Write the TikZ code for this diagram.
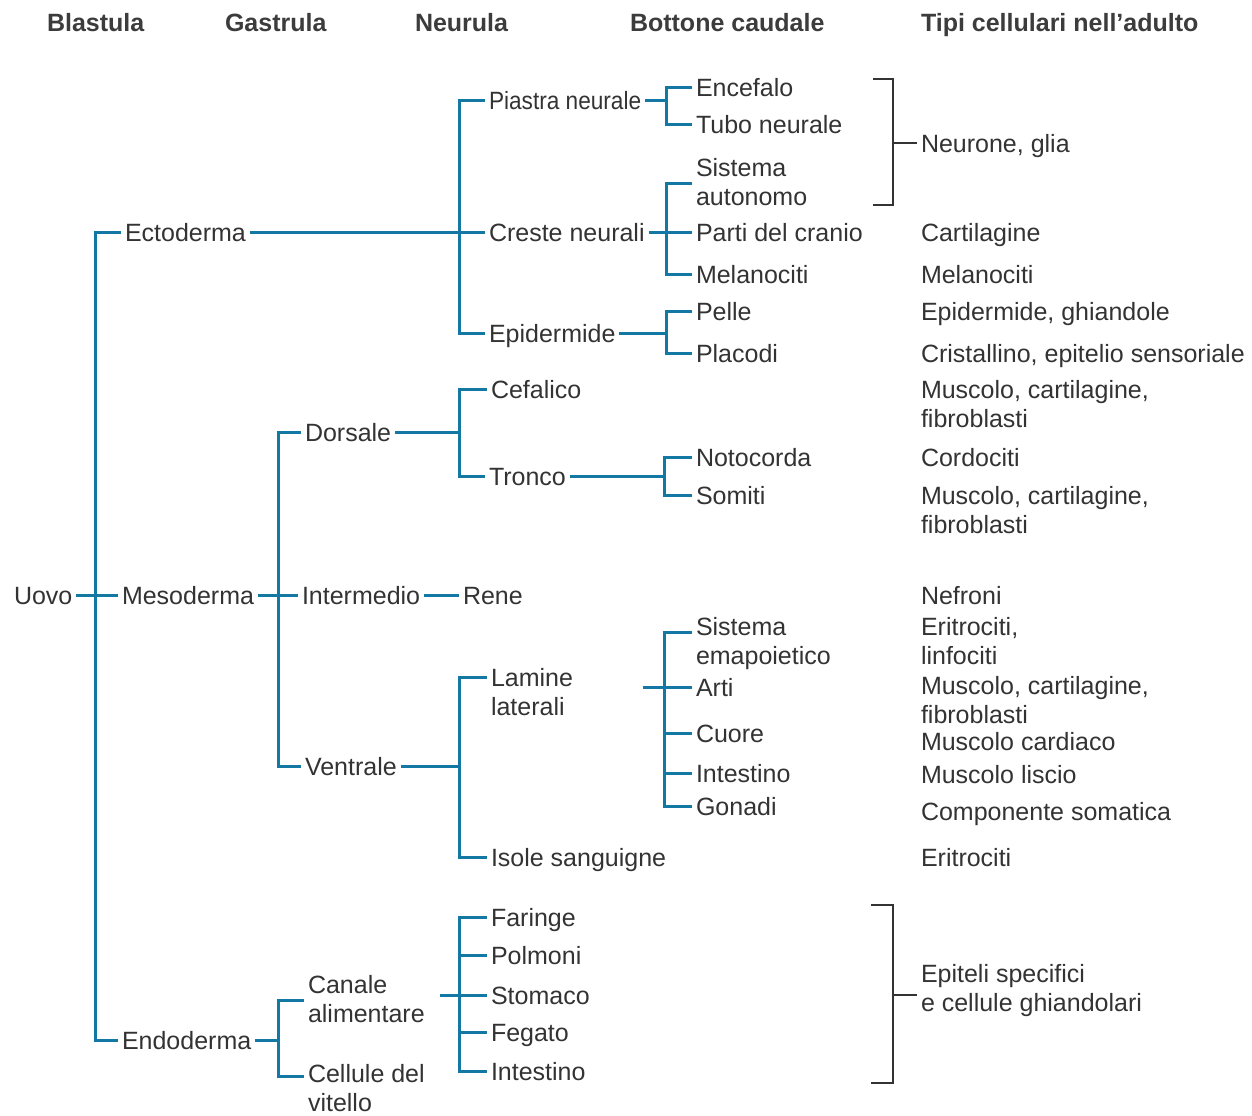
\documentclass[tikz,border=0pt]{standalone}
\usepackage{fontspec}
\setmainfont{Liberation Sans}
\definecolor{treeblue}{HTML}{1478A5}
\definecolor{txt}{HTML}{333333}
\definecolor{hdr}{HTML}{3C3C3C}
\newcommand{\two}[2]{\begin{tabular}[t]{@{}l@{}}#1\\#2\end{tabular}}
\begin{document}
\begin{tikzpicture}[x=0.5pt,y=-0.5pt,
  base/.style={anchor=base west, inner sep=0pt, outer xsep=2pt, xshift=-2pt,
    text=txt, font=\fontsize{12.5pt}{14.5pt}\selectfont},
  lbl/.style={base, text height=10pt, text depth=1pt},
  multi/.style={base},
  hd/.style={base, font=\fontsize{12.5pt}{14.5pt}\selectfont\bfseries, text=hdr},
  conn/.style={draw=treeblue, line width=1.5pt},
  brk/.style={draw=txt, line width=1pt},
]
\useasboundingbox (0,0) rectangle (1252,1115);

% column headings
\node[hd] (hBla) at (47,31) {Blastula};
\node[hd] (hGas) at (225,31) {Gastrula};
\node[hd] (hNeu) at (415,31) {Neurula};
\node[hd] (hBot) at (630,31) {Bottone caudale};
\node[hd] (hTip) at (921,31) {Tipi cellulari nell’adulto};

% germ layers
\node[lbl] (uovo) at (14,604) {Uovo};
\node[lbl] (ecto) at (125,241) {Ectoderma};
\node[lbl] (meso) at (122,604) {Mesoderma};
\node[lbl] (endo) at (122,1049) {Endoderma};

% ectoderm
\node[lbl] (piastra) at (489,109) {\scalebox{0.905}[1]{Piastra neurale}};
\node[lbl] (creste) at (489,241) {Creste neurali};
\node[lbl] (epid) at (489,342) {Epidermide};
\node[lbl] (encef) at (696,96) {Encefalo};
\node[lbl] (tubo) at (696,133) {Tubo neurale};
\node[multi] (sisaut) at (696,176) {\two{Sistema}{autonomo}};
\node[lbl] (parti) at (696,241) {Parti del cranio};
\node[lbl] (melan) at (696,283) {Melanociti};
\node[lbl] (pelle) at (696,320) {Pelle};
\node[lbl] (placodi) at (696,362) {Placodi};

% mesoderm
\node[lbl] (dorsale) at (305,441) {Dorsale};
\node[lbl] (intermedio) at (302,604) {Intermedio};
\node[lbl] (ventrale) at (305,775) {Ventrale};
\node[lbl] (cefalico) at (491,398) {Cefalico};
\node[lbl] (tronco) at (489,485) {Tronco};
\node[lbl] (rene) at (463,604) {Rene};
\node[lbl] (notocorda) at (696,466) {Notocorda};
\node[lbl] (somiti) at (696,504) {Somiti};
\node[multi] (lamine) at (491,686) {\two{Lamine}{laterali}};
\node[lbl] (isole) at (491,866) {Isole sanguigne};
\node[multi] (sisema) at (696,635) {\two{Sistema}{emapoietico}};
\node[lbl] (arti) at (696,696) {Arti};
\node[lbl] (cuore) at (696,742) {Cuore};
\node[lbl] (intestA) at (696,782) {Intestino};
\node[lbl] (gonadi) at (696,815) {Gonadi};

% endoderm
\node[multi] (canale) at (308,993) {\two{Canale}{alimentare}};
\node[multi] (cellule) at (308,1082) {\two{Cellule del}{vitello}};
\node[lbl] (faringe) at (491,926) {Faringe};
\node[lbl] (polmoni) at (491,964) {Polmoni};
\node[lbl] (stomaco) at (491,1004) {Stomaco};
\node[lbl] (fegato) at (491,1041) {Fegato};
\node[lbl] (intestB) at (491,1080) {Intestino};

% adult cell types
\node[lbl] (neurone) at (921,152) {Neurone, glia};
\node[lbl] (cartil) at (921,241) {Cartilagine};
\node[lbl] (melanB) at (921,283) {Melanociti};
\node[lbl] (epidgh) at (921,320) {Epidermide, ghiandole};
\node[lbl] (cristal) at (921,362) {Cristallino, epitelio sensoriale};
\node[multi] (muscA) at (921,398) {\two{Muscolo, cartilagine,}{fibroblasti}};
\node[lbl] (cordoc) at (921,466) {Cordociti};
\node[multi] (muscB) at (921,504) {\two{Muscolo, cartilagine,}{fibroblasti}};
\node[lbl] (nefroni) at (921,604) {Nefroni};
\node[multi] (eritA) at (921,635) {\two{Eritrociti,}{linfociti}};
\node[multi] (muscC) at (921,694) {\two{Muscolo, cartilagine,}{fibroblasti}};
\node[lbl] (cardiaco) at (921,750) {Muscolo cardiaco};
\node[lbl] (liscio) at (921,783) {Muscolo liscio};
\node[lbl] (compsom) at (921,820) {Componente somatica};
\node[lbl] (eritB) at (921,866) {Eritrociti};
\node[multi] (epiteli) at (921,982) {\two{Epiteli specifici}{e cellule ghiandolari}};

% junction columns
\coordinate (j0) at (95,0);
\coordinate (jm) at (278,0);
\coordinate (j1) at (459,0);
\coordinate (j2) at (666,0);
\coordinate (jt) at (664,0);

% stub points of two-line labels
\coordinate (sisautS) at ([yshift=-3.5pt]sisaut.base west);
\coordinate (lamineS) at ([yshift=4.5pt]lamine.base west);
\coordinate (sisemaS) at ([yshift=1.5pt]sisema.base west);
\coordinate (canaleS) at ([yshift=-3.5pt]canale.base west);
\coordinate (celluleS) at ([yshift=3pt]cellule.base west);

% egg to germ layers
\draw[conn] (uovo.east) -- (meso.west);
\draw[conn] (ecto.west) -| (j0 |- endo.west) -- (endo.west);

% ectoderm
\draw[conn] (ecto.east) -- (creste.west);
\draw[conn] (piastra.west) -| (j1 |- epid.west) -- (epid.west);
\draw[conn] (piastra.east) -- (piastra.east -| j2);
\draw[conn] (encef.west) -| (j2 |- tubo.west) -- (tubo.west);
\draw[conn] (creste.east) -- (parti.west);
\draw[conn] (sisautS) -| (j2 |- melan.west) -- (melan.west);
\draw[conn] (epid.east) -- (epid.east -| j2);
\draw[conn] (pelle.west) -| (j2 |- placodi.west) -- (placodi.west);

% mesoderm
\draw[conn] (meso.east) -- (intermedio.west);
\draw[conn] (dorsale.west) -| (jm |- ventrale.west) -- (ventrale.west);
\draw[conn] (dorsale.east) -- (dorsale.east -| j1);
\draw[conn] (cefalico.west) -| (j1 |- tronco.west) -- (tronco.west);
\draw[conn] (tronco.east) -- (tronco.east -| jt);
\draw[conn] (notocorda.west) -| (jt |- somiti.west) -- (somiti.west);
\draw[conn] (intermedio.east) -- (rene.west);
\draw[conn] (ventrale.east) -- (ventrale.east -| j1);
\draw[conn] (lamineS) -| (j1 |- isole.west) -- (isole.west);
\coordinate (laminIn) at (643,0);
\draw[conn] (laminIn |- arti.west) -- (arti.west);
\draw[conn] (sisemaS) -| (jt |- gonadi.west) -- (gonadi.west);
\draw[conn] (jt |- cuore.west) -- (cuore.west);
\draw[conn] (jt |- intestA.west) -- (intestA.west);

% endoderm
\draw[conn] (endo.east) -- (endo.east -| jm);
\draw[conn] (canaleS) -| (jm |- celluleS) -- (celluleS);
\coordinate (canIn) at (440,0);
\draw[conn] (canIn |- stomaco.west) -- (stomaco.west);
\draw[conn] (faringe.west) -| (j1 |- intestB.west) -- (intestB.west);
\draw[conn] (j1 |- polmoni.west) -- (polmoni.west);
\draw[conn] (j1 |- fegato.west) -- (fegato.west);

% grey brackets
\coordinate (b1t) at (873,79);
\coordinate (b1b) at (873,205);
\coordinate (b1j) at (893,0);
\draw[brk] (b1t) -| (b1j |- b1b) -- (b1b);
\draw[brk] (b1j |- neurone.west) -- (neurone.west);
\coordinate (b2t) at (871,905);
\coordinate (b2b) at (871,1083);
\coordinate (b2m) at (893,995);
\draw[brk] (b2t) -| (b2m |- b2b) -- (b2b);
\draw[brk] (b2m) -- (b2m -| epiteli.west);
\end{tikzpicture}
\end{document}
